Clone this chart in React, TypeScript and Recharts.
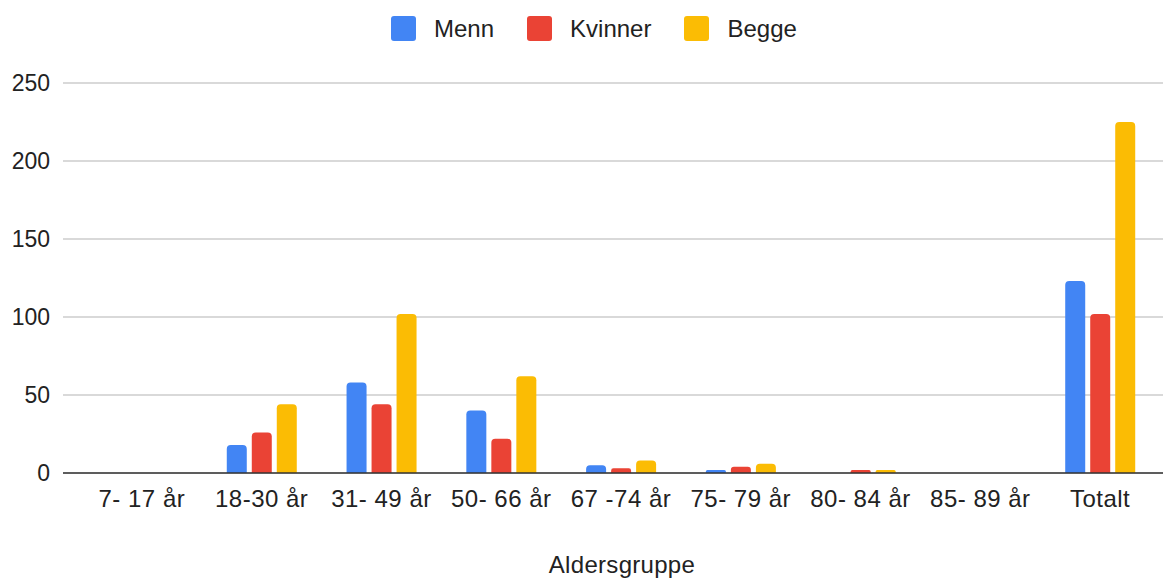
import React from 'react';
import { BarChart, Bar, XAxis, YAxis, CartesianGrid, Label } from 'recharts';

const categories = ['7- 17 år', '18-30 år', '31- 49 år', '50- 66 år', '67 -74 år', '75- 79 år', '80- 84 år', '85- 89 år', 'Totalt'];
const menn = [0, 18, 58, 40, 5, 2, 0, 0, 123];
const kvinner = [0, 26, 44, 22, 3, 4, 2, 0, 102];
const begge = [0, 44, 102, 62, 8, 6, 2, 0, 225];
const yTicks = [0, 50, 100, 150, 200, 250];

const seriesDefs = [
  { key: 'Menn', color: '#4285F4' },
  { key: 'Kvinner', color: '#EA4335' },
  { key: 'Begge', color: '#FBBC04' },
];

const data = categories.map((c, i) => ({ name: c, Menn: menn[i], Kvinner: kvinner[i], Begge: begge[i] }));

const FONT = 'Liberation Sans, Arial, sans-serif';

const LegendBox = () => (
  <div
    style={{
      position: 'absolute',
      left: 391,
      top: 16,
      height: 25,
      display: 'flex',
      alignItems: 'center',
      fontFamily: FONT,
      fontSize: 24,
      color: '#222',
      whiteSpace: 'nowrap',
      zIndex: 2,
    }}
  >
    {seriesDefs.map((s, i) => (
      <div key={s.key} style={{ display: 'flex', alignItems: 'center', marginLeft: i === 0 ? 0 : 33 }}>
        <div style={{ width: 25, height: 25, background: s.color, borderRadius: 3, marginRight: 18 }} />
        <span style={{ lineHeight: '25px' }}>{s.key}</span>
      </div>
    ))}
  </div>
);

export default function App() {
  return (
    <div style={{ position: 'absolute', left: 0, top: 0, width: 1165, height: 580, background: '#fff' }}>
      <LegendBox />
      <BarChart
        width={1165}
        height={580}
        data={data}
        margin={{ top: 83, right: 2, bottom: 0, left: 0 }}
        barCategoryGap={25}
        barGap={5}
      >
        <CartesianGrid vertical={false} stroke="#cccccc" strokeWidth={1.5} />
        <XAxis
          dataKey="name"
          height={107}
          interval={0}
          padding={{ left: 19, right: 3 }}
          tickLine={false}
          tickSize={0}
          tickMargin={17}
          axisLine={{ stroke: '#333333', strokeWidth: 1.5 }}
          tick={{ fontFamily: FONT, fontSize: 24, fill: '#222', letterSpacing: 0.5 }}
        >
          <Label
            value="Aldersgruppe"
            position="insideBottom"
            offset={7}
            dx={9}
            style={{ fontFamily: FONT, fontSize: 24, fill: '#222', letterSpacing: 0.3 }}
          />
        </XAxis>
        <YAxis
          width={63}
          domain={[0, 250]}
          ticks={yTicks}
          axisLine={false}
          tickLine={false}
          tickSize={0}
          tickMargin={13}
          tick={{ fontFamily: FONT, fontSize: 23, fill: '#222' }}
        />
        {seriesDefs.map((s) => (
          <Bar key={s.key} dataKey={s.key} fill={s.color} radius={[4, 4, 0, 0]} isAnimationActive={false} />
        ))}
      </BarChart>
    </div>
  );
}
